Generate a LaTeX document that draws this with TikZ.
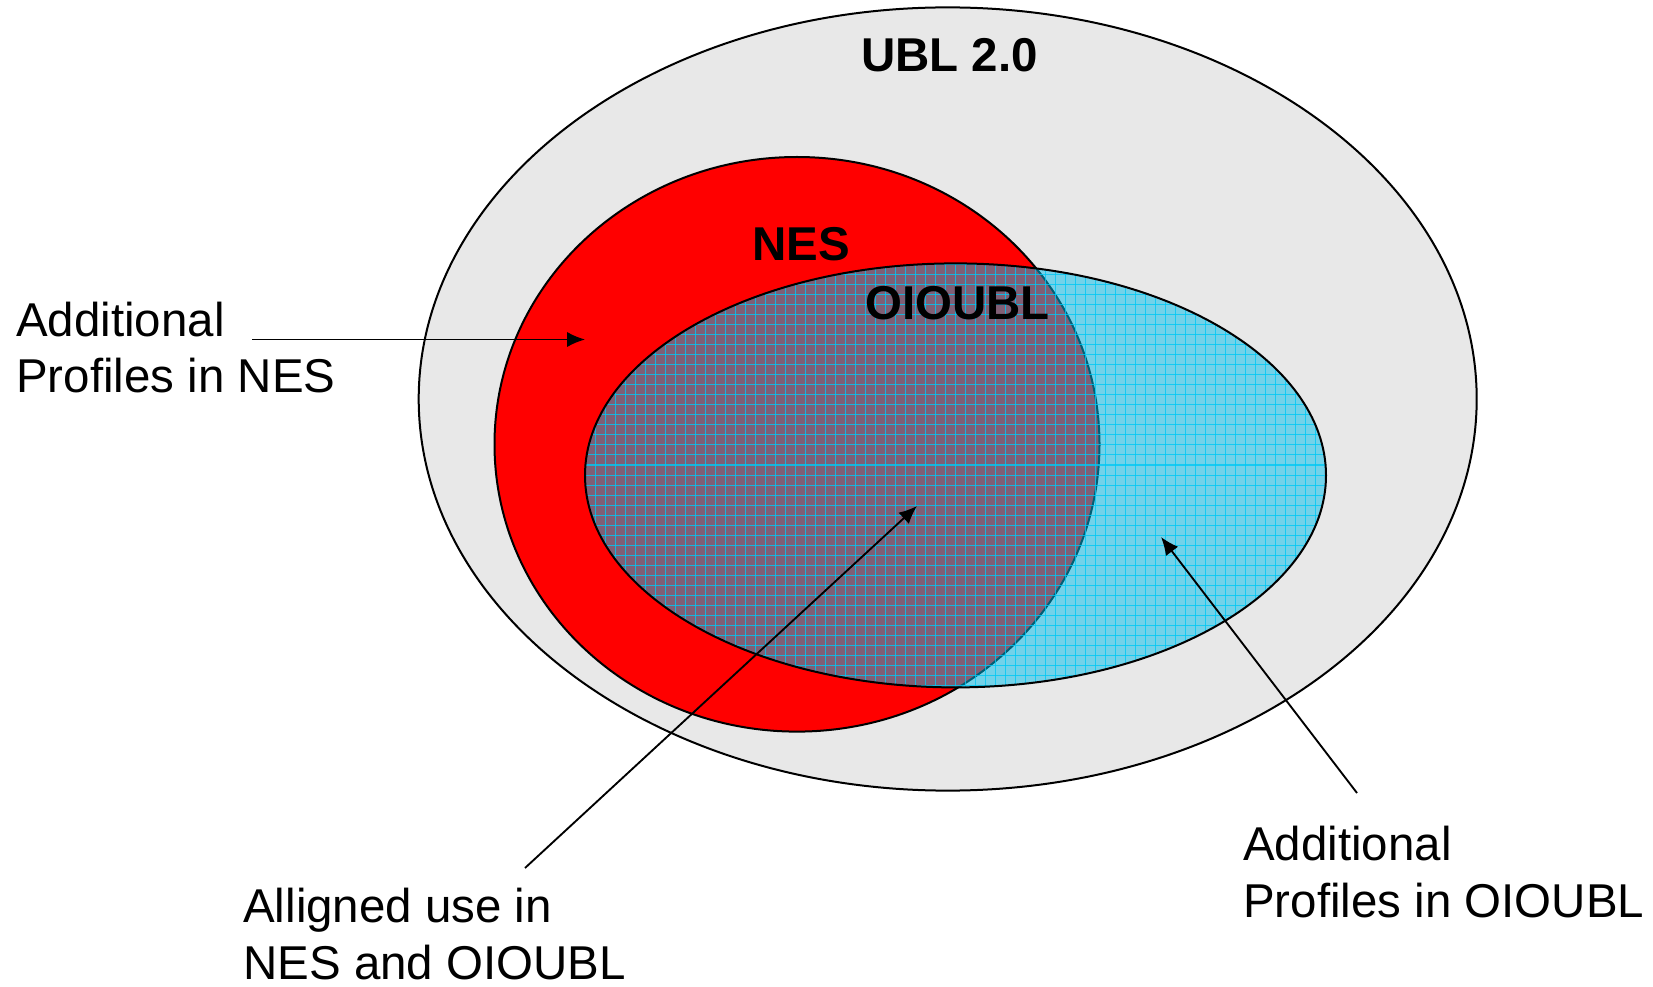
\documentclass[tikz,border=0pt]{standalone}
\usepackage{fontspec}
\setmainfont{Liberation Sans}
\usetikzlibrary{arrows.meta}
\definecolor{ublgrey}{RGB}{232,232,232}
\definecolor{nesred}{RGB}{255,0,0}
\definecolor{oiocyan}{RGB}{0,190,235}
\definecolor{gridcyan}{RGB}{0,200,245}
\tikzset{
  setline/.style={draw=black, line width=1.5pt},
  settitle/.style={font=\bfseries\fontsize{35.6}{42.75}\selectfont, inner sep=0pt, anchor=base west},
  note/.style={font=\fontsize{35.6}{42.75}\selectfont, align=left, inner sep=0pt, anchor=base west},
  pointer/.style={-{Latex[length=13.5pt,width=11.5pt]}, line width=1.4pt},
  gridline/.style={draw=gridcyan, line width=0.75pt, opacity=0.8}
}
\begin{document}
\begin{tikzpicture}[x=0.75pt,y=0.75pt,yscale=-1,xscale=1]
\useasboundingbox (0,0) rectangle (1653,987);
%UBL 2.0 set
\draw [setline, fill=ublgrey] (947.7,399) ellipse [x radius=529, y radius=391.6];
%NES set
\draw [setline, fill=nesred] (797,444.3) ellipse [x radius=302.5, y radius=287.3];
%OIOUBL set, see-through
\fill [oiocyan, fill opacity=0.5] (955.5,475.4) ellipse [x radius=370.5, y radius=212];
\begin{scope}
\clip (955.5,475.4) ellipse [x radius=370.5, y radius=212];
\foreach \gx in {585,595,...,1325} \draw [gridline] (\gx,262) -- (\gx,688);
\foreach \gy in {265,275,...,685} \draw [gridline] (584,\gy) -- (1327,\gy);
\end{scope}
\draw [setline] (955.5,475.4) ellipse [x radius=370.5, y radius=212];
% Text Node
\node [settitle] (ubltitle) at (861,72) {UBL 2.0};
% Text Node
\node [settitle] (nestitle) at (752,261) {NES};
% Text Node
\node [settitle] (oiotitle) at (865,320) {OIOUBL};
% Text Node
\node [note] (nesnote) at (16,393) {Additional\\Profiles in NES};
% Text Node
\node [note] (sharednote) at (243,979) {Alligned use in\\NES and OIOUBL};
% Text Node
\node [note] (oionote) at (1243,917) {Additional\\Profiles in OIOUBL};
%Arrows
\coordinate (nesfrom) at (252,339.5);
\coordinate (nestip) at (585,339.5);
\coordinate (sharedfrom) at (525,868);
\coordinate (sharedtip) at (917,506);
\coordinate (oiofrom) at (1357,793);
\coordinate (oiotip) at (1161,537);
\draw [pointer] (nesfrom) -- (nestip);
\draw [pointer] (sharedfrom) -- (sharedtip);
\draw [pointer] (oiofrom) -- (oiotip);
\end{tikzpicture}
\end{document}
